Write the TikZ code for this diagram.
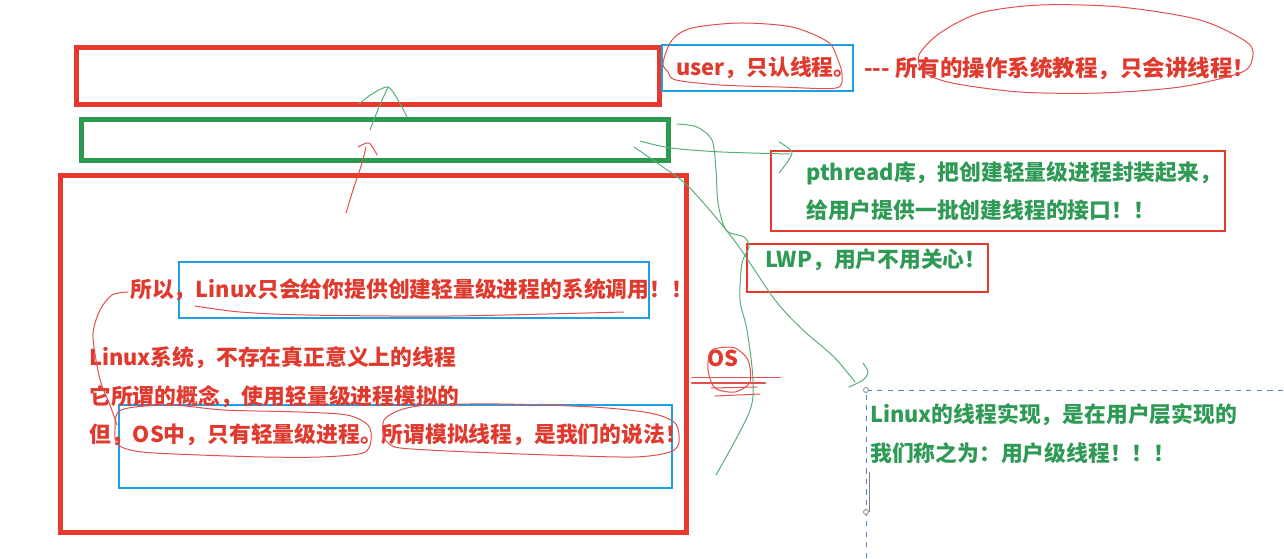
\documentclass[tikz,border=0pt]{standalone}
\usepackage{fontspec}
\setmainfont{Noto Sans CJK SC}

\definecolor{boxred}{HTML}{E8392C}
\definecolor{boxgreen}{HTML}{2C9950}
\definecolor{boxblue}{HTML}{1E9FE3}
\definecolor{txtred}{HTML}{E0392E}
\definecolor{txtgreen}{HTML}{2F9A55}
\definecolor{penred}{HTML}{E05050}
\definecolor{pengreen}{HTML}{5AAE78}
\definecolor{dashblue}{HTML}{4F86C6}

\tikzset{
  txt/.style={anchor=west, inner sep=0pt, font=\bfseries\fontsize{12.4}{14}\selectfont},
  redtxt/.style={txt, text=txtred},
  greentxt/.style={txt, text=txtgreen},
  thickbox/.style={line width=0.1cm},
  thinbox/.style={line width=0.04cm, draw=boxred},
  bluebox/.style={line width=0.03cm, draw=boxblue},
  pen/.style={line width=0.02cm, line cap=round, line join=round},
}

\begin{document}
\begin{tikzpicture}[x=0.02cm, y=-0.02cm]
            \useasboundingbox (0,0) rectangle (1284,558);

            % Drawing layer boxes
            \draw [thickbox, draw=boxred] (76.5,47.5) rectangle (659.5,104);%
            \draw [thickbox, draw=boxgreen] (81,119.5) rectangle (668,160.5);%
            \draw [thickbox, draw=boxred] (60.5,175.5) rectangle (686.5,532);%

            % Drawing frames round the remarks
            \draw [bluebox] (662,45) rectangle (853,91);%
            \draw [thinbox] (771,151) rectangle (1225,231);%
            \draw [thinbox] (747,244) rectangle (988,292);%
            \draw [bluebox] (179,262) rectangle (649,318);%
            \draw [bluebox] (119,405) rectangle (672,488);%

            % Marking the remarks at the top
            \node [redtxt] (user) at (676,68) {user，只认线程。};%
            \node [redtxt, font=\bfseries\fontsize{12.8}{14}\selectfont] (tutor) at (864,68) {-{}-{}- 所有的操作系统教程，只会讲线程！};%

            % Marking the pthread remarks
            \node [greentxt] (pth1) at (806,173) {pthread库，把创建轻量级进程封装起来，};%
            \node [greentxt] (pth2) at (806,210) {给用户提供一批创建线程的接口！！};%
            \node [greentxt] (lwp) at (765,260) {LWP，用户不用关心！};%

            % Marking the remarks in the kernel box
            \node [redtxt] (sys) at (130,290) {所以，Linux只会给你提供创建轻量级进程的系统调用！！};%
            \node [redtxt] (lone) at (89,358) {Linux系统，不存在真正意义上的线程};%
            \node [redtxt] (ltwo) at (89,397) {它所谓的概念，使用轻量级进程模拟的};%
            \node [redtxt] (lthree) at (89,435) {但，OS中，只有轻量级进程。所谓模拟线程，是我们的说法！};%
            \node [redtxt] (os) at (707,358) {OS};%

            % Marking the user level remarks
            \node [greentxt] (ulone) at (870,415) {Linux的线程实现，是在用户层实现的};%
            \node [greentxt] (ultwo) at (870,453) {我们称之为：用户级线程！！！};%

            % Drawing the dashed frame
            \draw [dashed, dashblue, line width=0.02cm] (866,558) -- (866,390) -- (1284,390);%
            \draw [gray, line width=0.02cm] (869,472) -- (869,512);%
            \draw [gray, line width=0.015cm, fill=white] (866,390) circle (2.5);%
            \draw [gray, line width=0.015cm, fill=white] (866,512) circle (2.5);%

            % Drawing green pen strokes
            \draw [pen, pengreen] plot [smooth] coordinates {(370,130) (375,117) (379,107) (388,87)};%
            \draw [pen, pengreen] plot [smooth] coordinates {(359,104) (372,94) (388,87) (398,100) (407,117)};%
            \draw [pen, pengreen] plot [smooth] coordinates {(677,124) (697,127) (712,140) (716,170) (718,203) (726,230) (744,237) (749,247) (742,263) (740,300) (747,330) (753,380) (749,413) (716,475)};%
            \draw [pen, pengreen] plot [smooth] coordinates {(640,141) (671,148) (722,152) (790,154)};%
            \draw [pen, pengreen] plot [smooth] coordinates {(779,142) (792,153) (779,173)};%
            \draw [pen, pengreen] plot [smooth] coordinates {(634,147) (660,165) (689,187) (734,240) (775,300) (803,330) (834,357) (855,382)};%
            \draw [pen, pengreen] plot [smooth] coordinates {(863,363) (868,372) (863,380) (849,387)};%

            % Drawing red pen strokes
            \draw [pen, penred] plot [smooth] coordinates {(346,213) (353,190) (362,163) (366,147)};%
            \draw [pen, penred] plot [smooth] coordinates {(358,147) (369,143) (377,155)};%
            \draw [pen, penred] plot [smooth cycle] coordinates {(663,63) (672,40) (692,28) (740,23) (792,27) (828,42) (838,60) (842,75) (836,88) (780,87) (720,85) (676,80) (668,72)};%
            \draw [pen, penred] plot [smooth cycle] coordinates {(919,55) (940,33) (980,13) (1040,5) (1120,7) (1200,20) (1248,43) (1252,60) (1240,73) (1180,87) (1100,93) (1020,92) (952,83) (924,72)};%
            \draw [pen, penred] plot [smooth] coordinates {(195,306) (240,312) (306,315) (450,316) (624,312)};%
            \draw [pen, penred] plot [smooth] coordinates {(128,292) (112,295) (100,310) (93,333) (96,360) (101,383) (110,405) (117,425)};%
            \draw [pen, penred] plot [smooth cycle] coordinates {(121,410) (170,405) (224,410) (300,412) (347,415) (368,425) (371,440) (363,453) (320,457) (265,457) (200,455) (142,452) (118,445) (115,430)};%
            \draw [pen, penred] plot [smooth cycle] coordinates {(384,420) (400,410) (429,405) (500,404) (593,407) (650,413) (675,423) (679,442) (670,452) (634,457) (550,455) (470,452) (429,450) (395,447) (384,437)};%
            \draw [pen, penred] plot [smooth cycle] coordinates {(710,352) (708,370) (715,388) (735,392) (750,382) (748,360) (735,348) (718,348)};%
            \draw [pen, penred] (692,377) -- (780,377);%
            \draw [pen, penred, line width=0.05cm] (692,383) -- (765,383);%
            \draw [pen, penred] (711,388) -- (757,387);%
            \draw [pen, penred] (715,396) -- (760,394);%
\end{tikzpicture}
\end{document}
